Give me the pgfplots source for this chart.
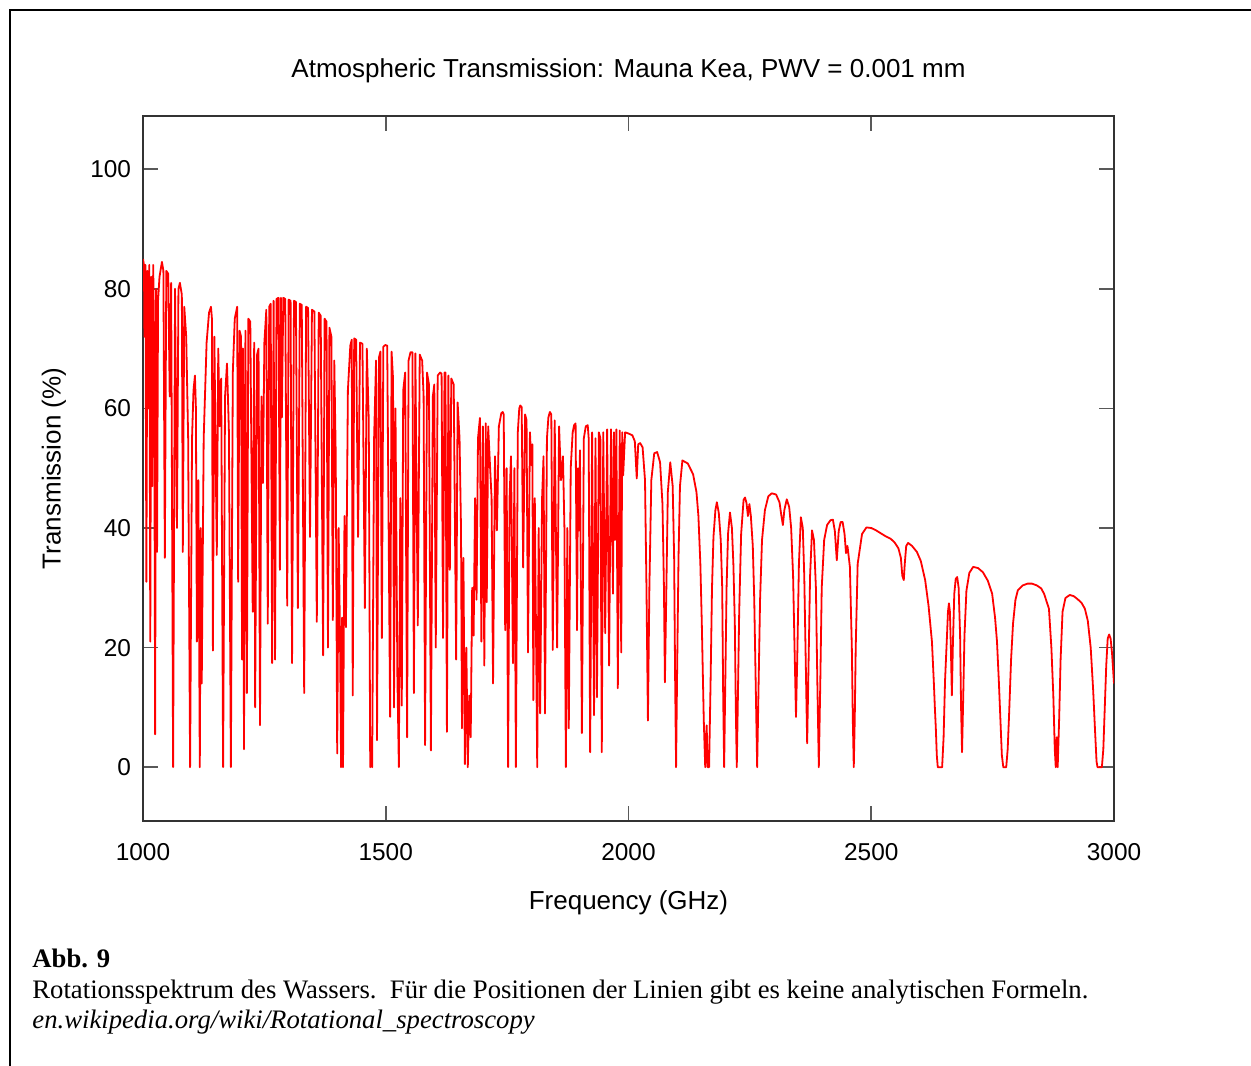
\documentclass[border=0pt]{standalone}
\usepackage{pgfplots}
\pgfplotsset{compat=1.18}
\usepackage{fontspec}
\setmainfont{Liberation Sans}
\newfontfamily\capfont{Liberation Serif}
\begin{document}
\begin{tikzpicture}
\path[use as bounding box] (0,0) rectangle (625.5bp,-533bp);
\draw[line width=1.1bp, black] (4.8bp,-533bp) -- (4.8bp,-5bp) -- (625.5bp,-5bp);
\begin{axis}[
  at={(71.5bp,-410.5bp)}, anchor=south west,
  width=485.5bp, height=352.5bp, scale only axis,
  xmin=1000, xmax=3000, ymin=-9, ymax=108.9,
  xtick={1000,1500,2000,2500,3000},
  ytick={0,20,40,60,80,100},
  tick align=inside, major tick length=7.5bp,
  axis line style={line width=0.9bp, black!80},
  tick style={line width=0.9bp, black!65},
  /pgf/number format/assume math mode=true,
  /pgf/number format/1000 sep={},
  ticklabel style={font=\fontsize{12.2bp}{14bp}\selectfont, black},
  xticklabel style={yshift=-7.5bp},
  yticklabel style={xshift=-2.5bp},
  title={Atmospheric Transmission: Mauna Kea, PWV = 0.001 mm},
  title style={font=\fontsize{13bp}{15bp}\selectfont, at={(axis description cs:0.5,1.047)}, anchor=center},
  xlabel={Frequency (GHz)},
  xlabel style={font=\fontsize{13bp}{15bp}\selectfont, at={(axis description cs:0.5,-0.116)}, anchor=center},
  ylabel={Transmission (\%)},
  ylabel style={font=\fontsize{13bp}{15bp}\selectfont, at={(axis description cs:-0.0917,0.5)}, anchor=center},
]
\addplot[red, line width=0.9bp, line join=round] coordinates {
(1000,85) (1002,84) (1003,72) (1005,84) (1007,31) (1009,83) (1011,60) (1013,84) (1015,21) (1017,82) (1019,47) (1021,84) (1023,70) (1025,5.5) (1027,80) (1029,36) (1031,78) (1034,82) (1039,84.5) (1042,83) (1045,35) (1048,83) (1052,82.5) (1055,62) (1058,81) (1062,0) (1066,80) (1070,40) (1073,80) (1076,81) (1080,79) (1082,36) (1085,77) (1089,72) (1093,55) (1097,0) (1101,55) (1104,63) (1107,65.5) (1109,60) (1111,21) (1114,48) (1117,0) (1119,40) (1121,14) (1125,55) (1131,71) (1136,76) (1140,77) (1142,75) (1144,19.5) (1147,72) (1152,35.5) (1155,70) (1158,57) (1161,65) (1165,0) (1169,62) (1173,67.5) (1177,56) (1181,0) (1185,66) (1189,75) (1194,77) (1196,31) (1199,73) (1202,72) (1204,18) (1206,70) (1208,3) (1211,73) (1214,12.4) (1217,75) (1221,74.5) (1226,26) (1229,71) (1231,10) (1235,69) (1238,70) (1241,7) (1244,62) (1247,47.5) (1250,71) (1254,76.5) (1257,24) (1260,77) (1263,77.5) (1266,17.4) (1269,78) (1272,18) (1275,78.3) (1279,78.5) (1282,33) (1284,78.5) (1286,58.5) (1289,78.5) (1293,78.3) (1297,27) (1300,78.2) (1304,78) (1307,17.4) (1311,78) (1315,77.8) (1319,26.6) (1323,77.5) (1327,77.3) (1332,12.4) (1336,77) (1340,76.8) (1344,38.5) (1348,76.5) (1353,76.2) (1358,24.3) (1362,76) (1366,75.5) (1371,18.7) (1374,75) (1378,74.5) (1381,20) (1384,73.5) (1388,72) (1391,24.6) (1394,68) (1397,52) (1400,2.3) (1403,40) (1406,20) (1408,0) (1410,25) (1412,0) (1415,42) (1418,23.4) (1422,63) (1427,70.5) (1430,71.5) (1432,12) (1435,71.7) (1439,71.5) (1443,38.5) (1447,71) (1452,70.8) (1457,26.6) (1461,70) (1465,58) (1468,0) (1470,5) (1472,0) (1476,55) (1480,68) (1482,4.5) (1486,68.5) (1489,69.5) (1492,21.6) (1495,70.3) (1499,70.6) (1503,70.5) (1509,8.4) (1512,69.5) (1515,65) (1517,10) (1520,60) (1524,15) (1527,0) (1530,45) (1533,10.3) (1536,63) (1540,66) (1544,5) (1547,68) (1551,69.4) (1555,69.4) (1558,12.4) (1561,69.2) (1566,23.7) (1570,69) (1575,68) (1578,62) (1581,3.7) (1585,66) (1589,64) (1593,2.8) (1597,62) (1600,64) (1603,20) (1607,65.5) (1612,66) (1615,65.8) (1618,21.6) (1621,66) (1623,66) (1626,5.9) (1629,65.5) (1632,33) (1635,65) (1640,64) (1645,18) (1648,61) (1652,55) (1655,40) (1657,6.5) (1660,35) (1663,0.5) (1666,20) (1669,0) (1672,12) (1675,5) (1678,30) (1681,22) (1684,45) (1687,28) (1690,55) (1694,58.4) (1697,21) (1700,57) (1703,17) (1706,57.5) (1708,27.6) (1711,57) (1715,50) (1718,45) (1721,14) (1725,52) (1729,39.6) (1733,57) (1738,59.2) (1741,59.4) (1743,59) (1746,22.9) (1749,50) (1752,0) (1755,45) (1758,52) (1762,17.4) (1765,50) (1768,0) (1772,56) (1775,60) (1777,60.5) (1780,60.2) (1783,33.4) (1787,59) (1790,58) (1793,19.2) (1797,56) (1800,50.5) (1802,54) (1804,11.2) (1807,45) (1812,0) (1815,40) (1818,9) (1822,45) (1825,52) (1828,9) (1832,55) (1835,58.5) (1838,59.4) (1841,59) (1844,19.6) (1848,58) (1853,20) (1857,57) (1861,48) (1865,52) (1868,40) (1871,0) (1874,40) (1877,6.5) (1881,50) (1885,56) (1888,57.2) (1891,57.5) (1894,22.9) (1896,50) (1898,39.6) (1900,53) (1904,5.7) (1908,55) (1912,57) (1916,57.2) (1918,55) (1921,2.5) (1925,56) (1929,8.7) (1932,55) (1935,11.7) (1939,56) (1942,55) (1945,2.5) (1948,56) (1952,22.4) (1956,56.5) (1960,17) (1964,56.5) (1968,29) (1970,56) (1972,38) (1975,56.5) (1978,13.2) (1982,56.3) (1985,19.2) (1987,56) (1989,48.8) (1993,56) (2000,55.8) (2008,55.5) (2013,54.5) (2017,48.3) (2020,54) (2024,54.2) (2029,53.5) (2034,48) (2037,30) (2040,7.8) (2043,30) (2047,48) (2053,52.5) (2059,52.7) (2065,51) (2070,44) (2073,30) (2075,14.2) (2078,30) (2081,46) (2086,51) (2091,47) (2094,35) (2096,15) (2098,0) (2100,15) (2103,35) (2106,47) (2111,51.3) (2122,50.8) (2133,49) (2140,46) (2144,42) (2148,34) (2151,24) (2155,8) (2158,0) (2161,7) (2163,0) (2166,0) (2169,14) (2172,30) (2175,38.5) (2179,43) (2182,44.3) (2186,42.5) (2190,38) (2193,30) (2195,12) (2197,0) (2199,12) (2202,30) (2205,39) (2209,42.6) (2213,40) (2216,34) (2219,24) (2221,10) (2223,0) (2225,10) (2228,26) (2232,39) (2237,44.7) (2240,45.1) (2243,44.2) (2246,42) (2249,44) (2252,42) (2256,37) (2259,28) (2262,14) (2265,0) (2268,14) (2271,28) (2275,38) (2281,43) (2288,45.3) (2295,45.8) (2304,45.6) (2311,44.3) (2315,42) (2318,40.5) (2321,43) (2326,44.8) (2331,43.5) (2335,40) (2339,32) (2342,20) (2345,8.4) (2348,20) (2351,34) (2355,41.8) (2359,40) (2362,32) (2365,18) (2368,4) (2371,18) (2374,32) (2378,39.6) (2382,38) (2386,30) (2389,14) (2392,0) (2395,14) (2398,30) (2403,38) (2409,40.5) (2416,41.3) (2421,41.4) (2425,39.5) (2429,34.6) (2433,39.5) (2437,41) (2441,41) (2445,39) (2448,35.8) (2451,37) (2456,33.5) (2460,20) (2462,8) (2464,0) (2466,8) (2468,20) (2472,34) (2481,39) (2490,40.1) (2500,40) (2510,39.6) (2520,39.1) (2530,38.6) (2540,38.2) (2548,37.6) (2556,36.6) (2561,35) (2564,32) (2567,31.3) (2569,34) (2572,37) (2576,37.5) (2584,37) (2594,36) (2602,34.5) (2611,31.3) (2618,27) (2625,21) (2629,14) (2631,10) (2633,6.5) (2635,2) (2637,0) (2646,0) (2649,5) (2652,14.5) (2656,22) (2658,26) (2660,27.4) (2662,26) (2664,20) (2666,12) (2668,20) (2671,29) (2674,31.5) (2677,31.8) (2680,30) (2683,22) (2685,10) (2687,2.5) (2689,10) (2692,22) (2696,29.5) (2702,32.5) (2710,33.5) (2720,33.3) (2730,32.6) (2740,31.2) (2749,29) (2755,25) (2759,21) (2763,14) (2766,8) (2769,2) (2772,0) (2778,0) (2781,3) (2784,9) (2788,18) (2792,24) (2797,28) (2802,29.6) (2812,30.4) (2822,30.7) (2831,30.7) (2841,30.4) (2850,29.9) (2856,29) (2860,28) (2866,26.5) (2871,20) (2875,12) (2878,3) (2880,0) (2882,5) (2884,0) (2887,8) (2890,18) (2894,26) (2900,28.3) (2909,28.8) (2917,28.6) (2925,28.1) (2933,27.5) (2940,26.5) (2946,24.5) (2952,20) (2957,13) (2961,6) (2964,1) (2966,0) (2975,0) (2978,3) (2981,10) (2984,17) (2987,21.5) (2990,22.2) (2993,21.5) (2996,19) (3000,14)
};
\end{axis}
\node[anchor=base west, inner sep=0] at (16bp,-483.5bp) {\capfont\bfseries\fontsize{13.35bp}{15bp}\selectfont Abb. 9};
\node[anchor=base west, inner sep=0] at (16bp,-499bp) {\capfont\fontsize{13.35bp}{15bp}\selectfont Rotationsspektrum des Wassers.\ \ Für die Positionen der Linien gibt es keine analytischen Formeln.};
\node[anchor=base west, inner sep=0] at (16bp,-514bp) {\capfont\itshape\fontsize{13.35bp}{15bp}\selectfont en.wikipedia.org/wiki/Rotational\_spectroscopy};
\end{tikzpicture}
\end{document}
